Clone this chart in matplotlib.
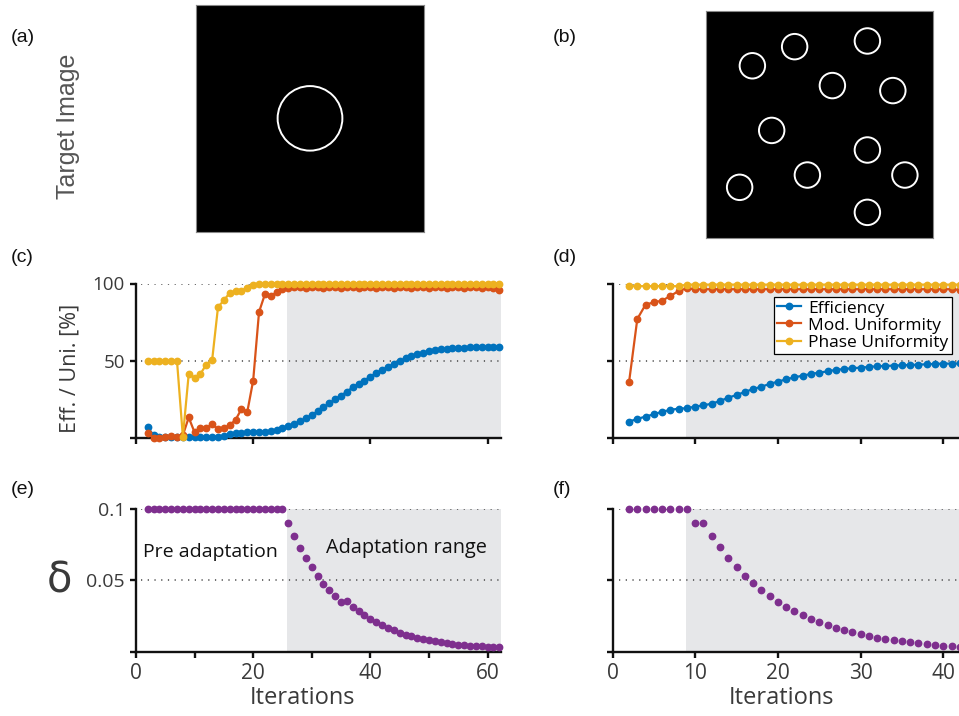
import matplotlib
matplotlib.use("Agg")
import matplotlib.pyplot as plt
from matplotlib.patches import Circle

# ---------------- data ----------------
x_c = list(range(2, 63))
eff_c = [6.5, 1.5, 0.3, 0.2, 0.1, 0.1, 0.1, 0.1, 0.1, 0.1, 0.1, 0.2, 0.5,
         1.2, 2.0, 2.6, 3.0, 3.3, 3.5, 3.5, 3.7, 4.0, 4.8, 5.9, 7.2, 8.7, 10.4,
         12.4, 14.6, 17.0, 19.6, 22.2, 24.8, 27.2, 29.8, 32.6, 34.8, 37.0, 39.6,
         41.7, 43.9, 45.7, 47.8, 49.6, 51.3, 52.6, 53.9, 55.0, 55.9, 56.5, 57.2,
         57.4, 57.8, 58.0, 58.3, 58.5, 58.7, 58.7, 58.9, 58.9, 59.0]
mod_c = [2.6, 0.0, 0.0, 0.5, 1.2, 0.3, 1.5, 13.0, 3.3, 6.0, 6.2, 8.7, 5.4,
         6.0, 8.0, 11.5, 18.5, 16.7, 37.0, 81.5, 93.0, 92.0, 94.3, 96.3,
         97.4, 97.5, 97.5, 97.4, 97.5, 97.5, 97.4, 97.5, 97.5, 97.4, 97.5, 97.5,
         97.4, 97.5, 97.5, 97.4, 97.5, 97.5, 97.4, 97.5, 97.5, 97.4, 97.5, 97.5,
         97.4, 97.5, 97.5, 97.4, 97.5, 97.5, 97.4, 97.5, 97.5, 97.4, 97.5, 97.3,
         96.0]
phase_c = [49.6, 49.6, 49.6, 49.6, 49.6, 49.6, 0.5, 41.3, 38.7, 41.3, 47.4,
           50.4, 84.8, 89.0, 94.0, 95.0, 95.2, 97.4, 99.0, 99.6,
           100, 100, 100, 100, 100, 100, 100, 100, 100, 100, 100, 100, 100, 100,
           100, 100, 100, 100, 100, 100, 100, 100, 100, 100, 100, 100, 100, 100,
           100, 100, 100, 100, 100, 100, 100, 100, 100, 100, 100, 100, 100]

x_d = list(range(2, 43))
eff_d = [10.8, 12.6, 14.1, 15.6, 17.3, 18.4, 19.3, 19.5, 20.6, 21.4, 22.5, 24.2,
         26.4, 28.1, 30.1, 32.0, 33.5, 35.3, 36.8, 38.3, 39.6, 40.7, 41.8, 42.6,
         43.5, 44.4, 45.0, 45.5, 45.9, 46.3, 46.8, 47.0, 47.2, 47.4, 47.6, 47.8,
         48.1, 48.3, 48.5, 48.5, 48.6]
mod_d = [36.4, 77.5, 86.8, 88.3, 89.4, 92.4, 95.7, 97.4,
         96.8, 96.8, 96.8, 96.8, 96.8, 96.8, 96.8, 96.8, 96.8, 96.8, 96.8, 96.8,
         96.8, 96.8, 96.8, 96.8, 96.8, 96.8, 96.8, 96.8, 96.8, 96.8, 96.8, 96.8,
         96.8, 96.8, 96.8, 96.8, 96.8, 96.8, 96.8, 96.8, 96.3]
phase_d = [98.8, 98.8, 98.8, 98.8, 98.8, 98.8, 98.8,
           99.8, 99.8, 99.8, 99.8, 99.8, 99.8, 99.8, 99.8, 99.8, 99.8, 99.8,
           99.8, 99.8, 99.8, 99.8, 99.8, 99.8, 99.8, 99.8, 99.8, 99.8, 99.8,
           99.8, 99.8, 99.8, 99.8, 99.8, 99.8, 99.8, 99.8, 99.8, 99.8, 99.8, 99.8]

x_e = list(range(2, 63))
delta_e = [0.1] * 24 + [0.090, 0.0813, 0.0729, 0.0657, 0.0592, 0.0533, 0.0477,
                        0.0433, 0.039, 0.035, 0.0356, 0.0316, 0.0285, 0.0257,
                        0.0231, 0.0208, 0.0187, 0.0168, 0.015, 0.0133, 0.0119,
                        0.0108, 0.0098, 0.0089, 0.008, 0.0073, 0.0066, 0.0059,
                        0.0054, 0.0049, 0.0047, 0.0042, 0.004, 0.0038, 0.0035,
                        0.0033, 0.0031]
x_f = list(range(2, 43))
delta_f = [0.1] * 8 + [0.0905, 0.0905, 0.0813, 0.0732, 0.0659, 0.0592, 0.0533,
                       0.048, 0.0433, 0.0388, 0.0351, 0.0313, 0.0285, 0.0255,
                       0.0229, 0.0206, 0.0185, 0.0168, 0.015, 0.0136, 0.0122,
                       0.011, 0.0098, 0.0091, 0.008, 0.0073, 0.0068, 0.0059,
                       0.0054, 0.0049, 0.0042, 0.0038, 0.0035]

adapt_start_left = 25.75
adapt_start_right = 8.85

# target image circles (relative coords in square, y from top), radius
circles_a = [(0.5, 0.5)]
radius_a = 0.142
circles_b = [(0.204, 0.242), (0.390, 0.158), (0.710, 0.133), (0.556, 0.329),
             (0.822, 0.351), (0.289, 0.526), (0.710, 0.612), (0.446, 0.722),
             (0.875, 0.722), (0.148, 0.776), (0.710, 0.886)]
radius_b = 0.056

series_labels = ["Efficiency", "Mod. Uniformity", "Phase Uniformity"]
col_eff = "#0072BD"
col_mod = "#D95319"
col_phase = "#EDB120"
col_delta = "#7E2F8E"
shade = "#E6E7E9"
tick_col = "#3a3a3a"

# ---------------- figure ----------------
W, H = 959, 716
fig = plt.figure(figsize=(W / 100, H / 100), dpi=100)
plt.rcParams['font.family'] = ['Open Sans', 'DejaVu Sans']


def rect(l, t, r, b):
    return [l / W, 1 - b / H, (r - l) / W, (b - t) / H]


def style_axes(ax):
    for s in ['top', 'right']:
        ax.spines[s].set_visible(False)
    for s in ['left', 'bottom']:
        ax.spines[s].set_linewidth(1.7)
        ax.spines[s].set_color('#111111')
    ax.tick_params(direction='out', length=4.5, width=1.7, color='#111111',
                   labelcolor=tick_col)
    ax.set_facecolor('white')


def gridlines(ax, ys, xmax):
    for y in ys:
        ax.plot([0.8, xmax], [y, y], linestyle=(0, (0.8, 3.6)), color='#444444',
                lw=1.1, zorder=1.5)


# target images
for r_, circs, rad in [((196, 4.7, 424, 232), circles_a, radius_a),
                       ((706, 10.7, 933.3, 238.3), circles_b, radius_b)]:
    axi = fig.add_axes(rect(*r_))
    axi.set_facecolor('black')
    axi.set_xlim(0, 1)
    axi.set_ylim(1, 0)
    axi.set_xticks([])
    axi.set_yticks([])
    for s in axi.spines.values():
        s.set_color('#888888')
        s.set_linewidth(0.8)
    for cx, cy in circs:
        axi.add_patch(Circle((cx, cy), rad, fill=False, ec='white', lw=1.4))

# panel c
ax_c = fig.add_axes(rect(136, 283.5, 501, 437.5))
style_axes(ax_c)
ax_c.set_xlim(0, 62.3)
ax_c.set_ylim(0, 100)
ax_c.axvspan(adapt_start_left, 62.3, color=shade, lw=0, zorder=0)
gridlines(ax_c, [50, 100], 62.3)
ms = 4.6
ax_c.plot(x_c, eff_c, '-o', color=col_eff, ms=ms, lw=1.6, clip_on=False, zorder=3)
ax_c.plot(x_c, mod_c, '-o', color=col_mod, ms=ms, lw=1.6, clip_on=False, zorder=4)
ax_c.plot(x_c, phase_c, '-o', color=col_phase, ms=ms, lw=1.6, clip_on=False, zorder=5)
ax_c.set_xticks([0, 20, 40, 60])
ax_c.set_xticklabels([])
ax_c.set_yticks([0, 50, 100])
ax_c.set_yticklabels(['', '50', '100'], fontsize=13.5)
ax_c.set_ylabel('Eff. / Uni. [%]', fontsize=15.5, color=tick_col, va='center')
ax_c.yaxis.set_label_coords(-0.181, 0.45)

# panel d
ax_d = fig.add_axes(rect(612.5, 284.3, 959, 438.3))
style_axes(ax_d)
ax_d.set_xlim(0, 41.9)
ax_d.set_ylim(0, 100)
ax_d.axvspan(adapt_start_right, 41.9, color=shade, lw=0, zorder=0)
gridlines(ax_d, [50, 100], 41.9)
l1, = ax_d.plot(x_d, eff_d, '-o', color=col_eff, ms=ms, lw=1.6, zorder=3)
l2, = ax_d.plot(x_d, mod_d, '-o', color=col_mod, ms=ms, lw=1.6, zorder=4)
l3, = ax_d.plot(x_d, phase_d, '-o', color=col_phase, ms=ms, lw=1.6, zorder=5)
for ln in (l1, l2, l3):
    ln.set_clip_on(False)
ax_d.set_xticks([0, 10, 20, 30, 40])
ax_d.set_xticklabels([])
ax_d.set_yticks([0, 50, 100])
ax_d.set_yticklabels([])
leg = ax_d.legend([l1, l2, l3], series_labels, loc='upper right',
                  bbox_to_anchor=(0.98, 0.918), borderaxespad=0, fontsize=12.5,
                  fancybox=False, edgecolor='black', framealpha=1,
                  handlelength=1.4, handletextpad=0.4, labelspacing=0.05,
                  borderpad=0.2, numpoints=1)
leg.get_frame().set_linewidth(0.9)
leg.set_zorder(10)

# panel e
ax_e = fig.add_axes(rect(136, 509, 501, 651.7))
style_axes(ax_e)
ax_e.set_xlim(0, 62.3)
ax_e.set_ylim(0, 0.1)
ax_e.axvspan(adapt_start_left, 62.3, color=shade, lw=0, zorder=0)
gridlines(ax_e, [0.05, 0.1], 62.3)
ax_e.plot(x_e, delta_e, 'o', color=col_delta, ms=ms, clip_on=False, zorder=3)
ax_e.set_xticks([0, 10, 20, 30, 40, 50, 60])
ax_e.set_xticklabels(['0', '', '20', '', '40', '', '60'], fontsize=15)
ax_e.set_yticks([0, 0.05, 0.1])
ax_e.set_yticklabels(['', '0.05', '0.1'], fontsize=14)
ax_e.set_xlabel('Iterations', fontsize=17, color=tick_col, va='center')
ax_e.xaxis.set_label_coords(0.456, -0.325)
ax_e.text(1.2, 0.070, 'Pre adaptation', fontsize=14, va='center', ha='left',
          color='#111111')
ax_e.text(32.4, 0.073, 'Adaptation range', fontsize=14.3, va='center', ha='left',
          color='#111111')
ax_e.text(-0.21, 0.5, 'δ', fontsize=30, transform=ax_e.transAxes, ha='center',
          va='center', color=tick_col, family=['DejaVu Sans'])

# panel f
ax_f = fig.add_axes(rect(612.5, 509, 959, 651.7))
style_axes(ax_f)
ax_f.set_xlim(0, 41.9)
ax_f.set_ylim(0, 0.1)
ax_f.axvspan(adapt_start_right, 41.9, color=shade, lw=0, zorder=0)
gridlines(ax_f, [0.05, 0.1], 41.9)
ax_f.plot(x_f, delta_f, 'o', color=col_delta, ms=ms, clip_on=False, zorder=3)
ax_f.set_xticks([0, 10, 20, 30, 40])
ax_f.set_xticklabels(['0', '10', '20', '30', '40'], fontsize=15)
ax_f.set_yticks([0, 0.05, 0.1])
ax_f.set_yticklabels([])
ax_f.set_xlabel('Iterations', fontsize=17, color=tick_col, va='center')
ax_f.xaxis.set_label_coords(0.488, -0.325)

# panel letters and row label
for lab, (px, py) in {'(a)': (11, 37), '(b)': (553, 37), '(c)': (11, 257),
                      '(d)': (553, 257), '(e)': (11, 490), '(f)': (553, 490)}.items():
    fig.text(px / W, 1 - py / H, lab, fontsize=14, ha='left', va='center',
             family=['Liberation Sans'], color='#111111')
fig.text(68 / W, 1 - 126 / H, 'Target Image', fontsize=18, rotation=90,
         ha='center', va='center', family=['Liberation Sans'], color='#555555')

fig.savefig('out.png', dpi=100)
